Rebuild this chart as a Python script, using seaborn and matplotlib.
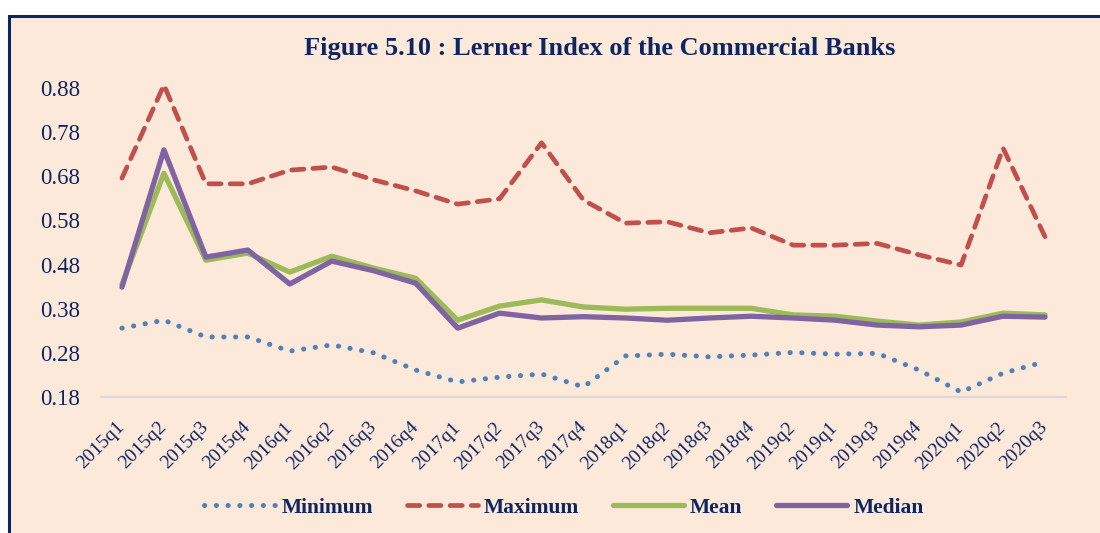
import matplotlib
matplotlib.use("Agg")
import matplotlib.pyplot as plt
import seaborn as sns
import pandas as pd
from matplotlib.patches import Rectangle

quarters = ["2015q1", "2015q2", "2015q3", "2015q4", "2016q1", "2016q2", "2016q3", "2016q4",
            "2017q1", "2017q2", "2017q3", "2017q4", "2018q1", "2018q2", "2018q3", "2018q4",
            "2019q2", "2019q1", "2019q3", "2019q4", "2020q1", "2020q2", "2020q3"]
minimum = [0.336, 0.354, 0.316, 0.316, 0.284, 0.298, 0.280, 0.241, 0.214, 0.225, 0.232, 0.203,
           0.273, 0.277, 0.271, 0.275, 0.281, 0.277, 0.279, 0.241, 0.191, 0.234, 0.260]
maximum = [0.676, 0.887, 0.663, 0.663, 0.694, 0.701, 0.672, 0.647, 0.617, 0.629, 0.756, 0.626,
           0.574, 0.577, 0.552, 0.563, 0.524, 0.524, 0.528, 0.502, 0.479, 0.744, 0.543]
mean = [0.435, 0.687, 0.490, 0.506, 0.463, 0.499, 0.472, 0.449, 0.354, 0.386, 0.400, 0.384,
        0.379, 0.381, 0.381, 0.381, 0.366, 0.363, 0.352, 0.343, 0.350, 0.370, 0.366]
median = [0.429, 0.740, 0.497, 0.513, 0.436, 0.488, 0.466, 0.438, 0.336, 0.370, 0.359, 0.362,
          0.359, 0.354, 0.359, 0.363, 0.359, 0.354, 0.343, 0.339, 0.343, 0.363, 0.361]
yticks = [0.18, 0.28, 0.38, 0.48, 0.58, 0.68, 0.78, 0.88]

navy = "#0E2564"
bg = "#FDE9D9"

sns.set_theme(style="white")
plt.rcParams["font.family"] = ["Liberation Serif", "DejaVu Serif"]

fig = plt.figure(figsize=(11, 5.33), dpi=100, facecolor="white")
W, H = 1100, 533
fig.patches.append(Rectangle((9 / W, -0.05), 1.2, 1 - 16 / H + 0.05, transform=fig.transFigure,
                             facecolor=bg, edgecolor=navy, linewidth=2.2, zorder=-10))

ax = fig.add_axes([101 / W, 136 / H, (1066 - 101) / W, (467 - 136) / H])
ax.set_facecolor("none")
ax.set_zorder(5)

df = pd.DataFrame({"q": quarters, "Minimum": minimum, "Maximum": maximum,
                   "Mean": mean, "Median": median})

sns.lineplot(data=df, x="q", y="Minimum", ax=ax, sort=False, color="#4F81BD", lw=3.6,
             linestyle=(0, (0.05, 2.3)), dash_capstyle="round", label="Minimum")
sns.lineplot(data=df, x="q", y="Maximum", ax=ax, sort=False, color="#C0504D", lw=3.4,
             linestyle=(0, (2.6, 1.9)), dash_capstyle="round", label="Maximum")
sns.lineplot(data=df, x="q", y="Mean", ax=ax, sort=False, color="#9BBB59", lw=3.8,
             solid_capstyle="round", label="Mean")
sns.lineplot(data=df, x="q", y="Median", ax=ax, sort=False, color="#8064A2", lw=3.8,
             solid_capstyle="round", label="Median")

ax.set_xlim(-0.5, len(quarters) - 0.5)
ax.set_ylim(0.18, 0.93)
ax.set_yticks(yticks)
ax.set_yticklabels([f"{v:.2f}" for v in yticks])
ax.set_xlabel("")
ax.set_ylabel("")
for s in ["left", "right", "top"]:
    ax.spines[s].set_visible(False)
ax.spines["bottom"].set_color("#D9D9D9")
ax.spines["bottom"].set_linewidth(1.5)
ax.tick_params(axis="both", length=0, colors=navy)
ax.tick_params(axis="y", pad=15, labelsize=16.5)
ax.tick_params(axis="x", pad=20, labelsize=14)
for lab in ax.get_xticklabels():
    lab.set_rotation(45)
    lab.set_ha("right")
    lab.set_va("center")
    lab.set_rotation_mode("anchor")

fig.text(600 / W, 1 - 48 / H, "Figure 5.10 : Lerner Index of the Commercial Banks",
         ha="center", va="center", fontsize=19, fontweight="bold", color=navy)

ax.legend(loc="center", bbox_to_anchor=(564 / W, 1 - 508 / H), bbox_transform=fig.transFigure,
          ncol=4, frameon=False, handlelength=3.3, columnspacing=1.55, handletextpad=0.3,
          prop={"size": 15.5, "weight": "bold"}, labelcolor=navy)

fig.savefig("out.png", dpi=100, facecolor="white")
